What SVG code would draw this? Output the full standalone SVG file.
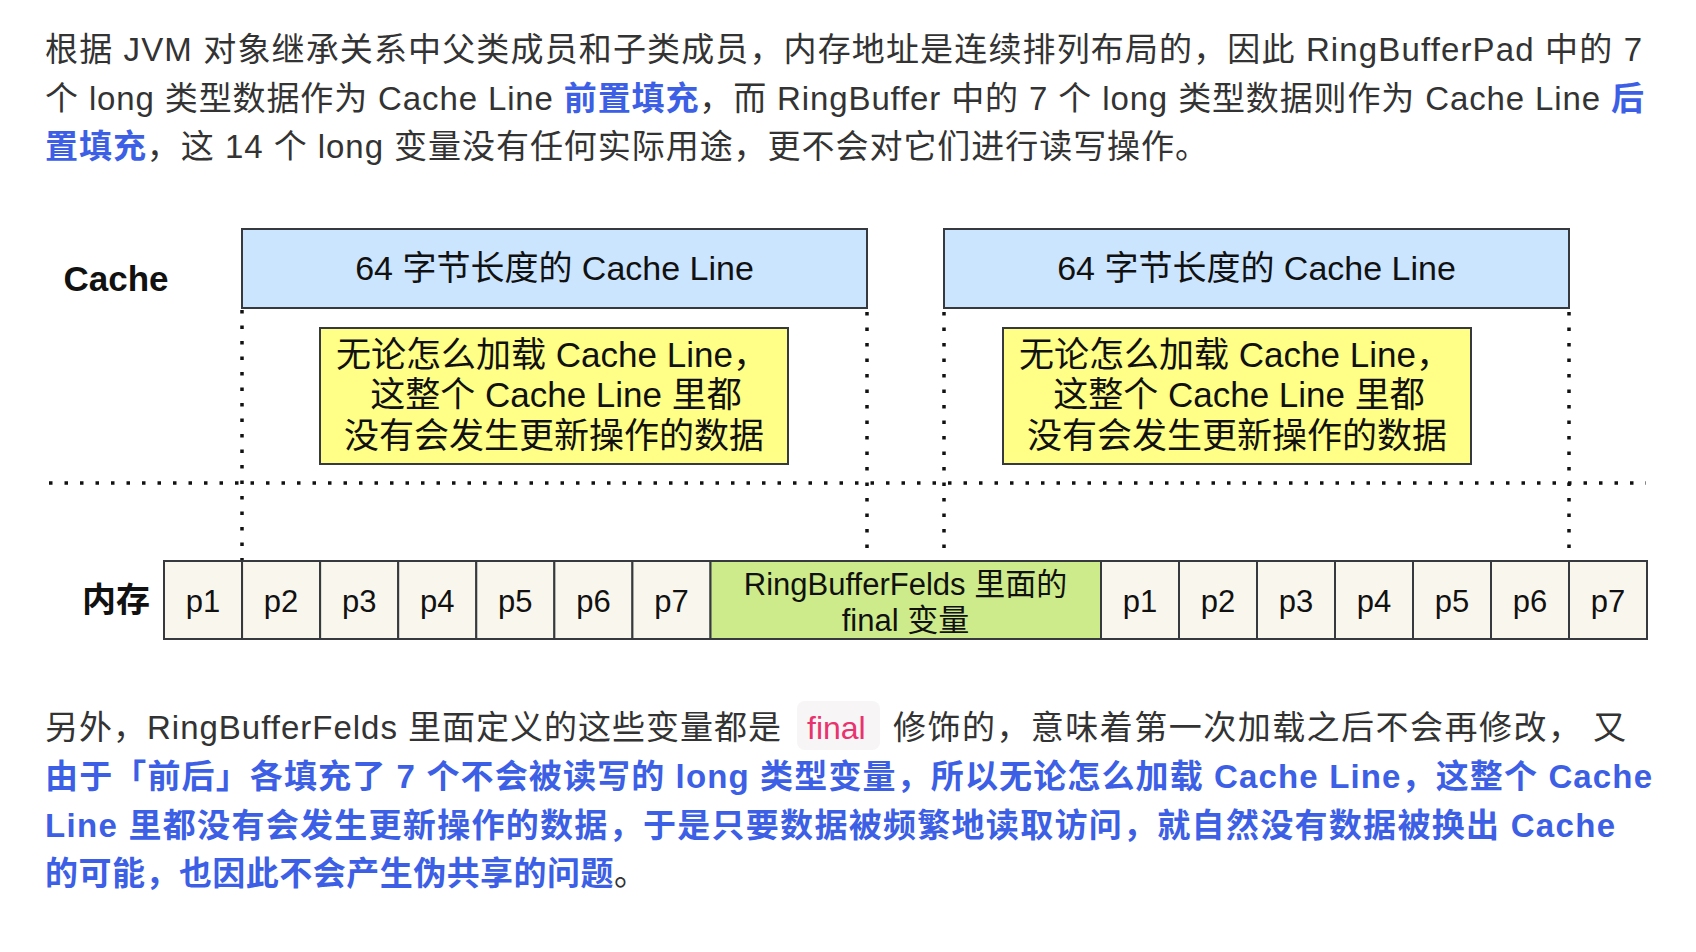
<svg xmlns="http://www.w3.org/2000/svg" width="1696" height="952" viewBox="0 0 1696 952">
<style>
  text { font-family: "Liberation Sans", "Noto Sans CJK SC", sans-serif; }
  .para { font-size: 33px; fill: #333333; }
  .hl { fill: #3c5fe6; font-weight: bold; }
  .blue { font-size: 33px; fill: #3c5fe6; font-weight: bold; }
  .box { stroke: #36393d; stroke-width: 2; }
  .cache { fill: #cce5ff; }
  .note { fill: #ffff88; }
  .cell { fill: #f9f7ed; }
  .green { fill: #cdeb8b; }
  .lbl { font-size: 34px; fill: #111111; text-anchor: middle; }
  .note-t { font-size: 35px; fill: #111111; text-anchor: middle; }
  .cell-t { font-size: 31px; fill: #111111; text-anchor: middle; }
  .dot { stroke: #111111; stroke-width: 3.5; stroke-dasharray: 3.5 12; fill: none; }
</style>

<g id="para-top">
  <text class="para" x="45" y="61" textLength="1597" lengthAdjust="spacing">根据 JVM 对象继承关系中父类成员和子类成员，内存地址是连续排列布局的，因此 RingBufferPad 中的 7</text>
  <text class="para" x="45" y="110" textLength="1599" lengthAdjust="spacing">个 long 类型数据作为 Cache Line <tspan class="hl">前置填充</tspan>，而 RingBuffer 中的 7 个 long 类型数据则作为 Cache Line <tspan class="hl">后</tspan></text>
  <text class="para" x="45" y="158" textLength="1163" lengthAdjust="spacing"><tspan class="hl">置填充</tspan>，这 14 个 long 变量没有任何实际用途，更不会对它们进行读写操作。</text>
</g>

<g id="connectors">
  <line class="dot" x1="49" y1="483" x2="1646" y2="483"/>
  <line class="dot" x1="242" y1="310" x2="242" y2="561"/>
  <line class="dot" x1="867" y1="312" x2="867" y2="556"/>
  <line class="dot" x1="944" y1="312" x2="944" y2="556"/>
  <line class="dot" x1="1569" y1="312" x2="1569" y2="556"/>
</g>

<g id="label-cache">
  <text x="116" y="291" font-size="35" font-weight="bold" fill="#111111" text-anchor="middle">Cache</text>
</g>

<g id="cacheline-1">
  <rect class="box cache" x="242" y="229" width="625" height="79"/>
  <text class="lbl" x="554.5" y="280">64 字节长度的 Cache Line</text>
</g>
<g id="cacheline-2">
  <rect class="box cache" x="944" y="229" width="625" height="79"/>
  <text class="lbl" x="1256.5" y="280">64 字节长度的 Cache Line</text>
</g>

<g id="note-1">
  <rect class="box note" x="320" y="328" width="468" height="136"/>
  <text class="note-t" x="552" y="367">无论怎么加载 Cache Line，</text>
  <text class="note-t" x="556" y="407">这整个 Cache Line 里都</text>
  <text class="note-t" x="554" y="448">没有会发生更新操作的数据</text>
</g>
<g id="note-2">
  <rect class="box note" x="1003" y="328" width="468" height="136"/>
  <text class="note-t" x="1235" y="367">无论怎么加载 Cache Line，</text>
  <text class="note-t" x="1239" y="407">这整个 Cache Line 里都</text>
  <text class="note-t" x="1237" y="448">没有会发生更新操作的数据</text>
</g>

<g id="label-mem">
  <text x="116" y="612" font-size="34" font-weight="bold" fill="#111111" text-anchor="middle">内存</text>
</g>

<g id="mem-pad-front">
  <rect class="box cell" x="164" y="561" width="78.07" height="78"/>
  <rect class="box cell" x="242.07" y="561" width="78.07" height="78"/>
  <rect class="box cell" x="320.14" y="561" width="78.07" height="78"/>
  <rect class="box cell" x="398.21" y="561" width="78.07" height="78"/>
  <rect class="box cell" x="476.28" y="561" width="78.07" height="78"/>
  <rect class="box cell" x="554.35" y="561" width="78.07" height="78"/>
  <rect class="box cell" x="632.42" y="561" width="78.08" height="78"/>
  <text class="cell-t" x="203" y="612">p1</text>
  <text class="cell-t" x="281.1" y="612">p2</text>
  <text class="cell-t" x="359.2" y="612">p3</text>
  <text class="cell-t" x="437.2" y="612">p4</text>
  <text class="cell-t" x="515.3" y="612">p5</text>
  <text class="cell-t" x="593.4" y="612">p6</text>
  <text class="cell-t" x="671.5" y="612">p7</text>
</g>

<g id="mem-fields">
  <rect class="box green" x="710.5" y="561" width="390.5" height="78"/>
  <text class="cell-t" x="905.5" y="595">RingBufferFelds 里面的</text>
  <text class="cell-t" x="905.5" y="631">final 变量</text>
</g>

<g id="mem-pad-back">
  <rect class="box cell" x="1101" y="561" width="78" height="78"/>
  <rect class="box cell" x="1179" y="561" width="78" height="78"/>
  <rect class="box cell" x="1257" y="561" width="78" height="78"/>
  <rect class="box cell" x="1335" y="561" width="78" height="78"/>
  <rect class="box cell" x="1413" y="561" width="78" height="78"/>
  <rect class="box cell" x="1491" y="561" width="78" height="78"/>
  <rect class="box cell" x="1569" y="561" width="78" height="78"/>
  <text class="cell-t" x="1140" y="612">p1</text>
  <text class="cell-t" x="1218" y="612">p2</text>
  <text class="cell-t" x="1296" y="612">p3</text>
  <text class="cell-t" x="1374" y="612">p4</text>
  <text class="cell-t" x="1452" y="612">p5</text>
  <text class="cell-t" x="1530" y="612">p6</text>
  <text class="cell-t" x="1608" y="612">p7</text>
</g>

<g id="para-bottom">
  <text class="para" x="45" y="739" textLength="736" lengthAdjust="spacing">另外，RingBufferFelds 里面定义的这些变量都是</text>
  <rect x="797" y="701" width="83" height="49" rx="8" fill="#f7f5f5"/>
  <text x="807" y="739" font-size="32" fill="#e8336f">final</text>
  <text class="para" x="893" y="739" textLength="733" lengthAdjust="spacing">修饰的，意味着第一次加载之后不会再修改， 又</text>
  <text class="blue" x="45" y="788" textLength="1607" lengthAdjust="spacing">由于「前后」各填充了 7 个不会被读写的 long 类型变量，所以无论怎么加载 Cache Line，这整个 Cache</text>
  <text class="blue" x="45" y="837" textLength="1570" lengthAdjust="spacing">Line 里都没有会发生更新操作的数据，于是只要数据被频繁地读取访问，就自然没有数据被换出 Cache</text>
  <text class="blue" x="45" y="885" textLength="602" lengthAdjust="spacing">的可能，也因此不会产生伪共享的问题<tspan fill="#333333" font-weight="normal">。</tspan></text>
</g>
</svg>
